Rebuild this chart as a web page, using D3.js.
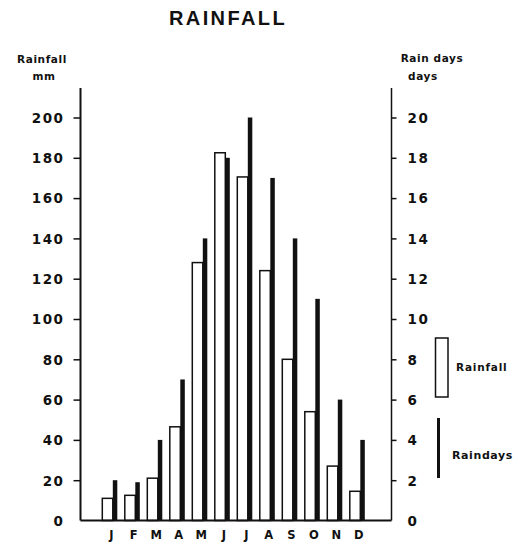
<!DOCTYPE html>
<html><head><meta charset="utf-8">
<script src="https://cdn.jsdelivr.net/npm/d3@7"></script>
<style>
body{margin:0;background:#fff;}
text{font-family:"Liberation Sans",Arial,sans-serif;fill:#111;}
</style></head><body>
<svg id="c" width="523" height="550"></svg>
<script>
const months = ["J","F","M","A","M","J","J","A","S","O","N","D"];
const rainfall = [11, 12.5, 21, 46.5, 128, 182.5, 170.5, 124, 80, 54, 27, 14.5];
const raindays = [2, 1.9, 4, 7, 14, 18, 20, 17, 14, 11, 6, 4];
const mmTicks = [0,20,40,60,80,100,120,140,160,180,200];
const dayTicks = [0,2,4,6,8,10,12,14,16,18,20];

const svg = d3.select("#c");
const ids = months.map((m,i)=>i);
const x = d3.scaleBand().domain(ids).range([98.55, 98.55 + 12*22.5]).paddingInner(1/3).paddingOuter(1/6);
const yL = d3.scaleLinear().domain([0,200]).range([520.5,117.5]);
const yR = d3.scaleLinear().domain([0,20]).range([520.5,117.5]);
const xLeft = 80.5, xRight = 391.5, yTop = 88;

// title
svg.append("text").attr("x",228).attr("y",25).attr("text-anchor","middle")
  .style("font-size","20px").style("font-weight","bold").style("letter-spacing","2.4px").text("RAINFALL");

// axis titles
const ft = (t,xx,yy,anchor)=>svg.append("text").attr("x",xx).attr("y",yy).attr("text-anchor",anchor||"middle")
  .style("font-family","'DejaVu Sans',sans-serif")
  .style("font-size","10.5px").style("font-weight","bold").style("letter-spacing","0.6px").text(t);
ft("Rainfall",42,63);
ft("mm",44,80);
ft("Rain days",432,62);
ft("days",423,80);

// bars
const bw = x.bandwidth();
svg.append("g").selectAll("rect").data(ids).join("rect")
  .attr("x",i=>x(i)).attr("width",bw*0.7)
  .attr("y",i=>yL(rainfall[i])).attr("height",i=>yL(0)-yL(rainfall[i]))
  .attr("fill","#fff").attr("stroke","#111").attr("stroke-width",1.5);
svg.append("g").selectAll("rect").data(ids).join("rect")
  .attr("x",i=>x(i)+bw*0.7).attr("width",bw*0.3)
  .attr("y",i=>yR(raindays[i])).attr("height",i=>yR(0)-yR(raindays[i]))
  .attr("fill","#111");

// left axis
const gl = svg.append("g").attr("transform",`translate(${xLeft},0)`)
  .call(d3.axisLeft(yL).tickValues(mmTicks).tickSize(7).tickPadding(9).tickFormat(d3.format("d")));
gl.select(".domain").remove();
gl.selectAll(".tick line").attr("stroke","#111").attr("stroke-width",1.5);
gl.selectAll(".tick text").style("font-size","13.5px").style("font-weight","bold").style("letter-spacing","1.5px")
  .style("font-family","'DejaVu Sans',sans-serif").attr("dy","0.36em");
gl.selectAll(".tick").filter(d=>d===0).select("line").remove();
svg.append("line").attr("x1",xLeft).attr("x2",xLeft).attr("y1",yTop).attr("y2",yL(0)).attr("stroke","#111").attr("stroke-width",2);

// right axis
const gr = svg.append("g").attr("transform",`translate(${xRight},0)`)
  .call(d3.axisRight(yR).tickValues(dayTicks).tickSize(5).tickPadding(11).tickFormat(d3.format("d")));
gr.select(".domain").remove();
gr.selectAll(".tick line").attr("stroke","#111").attr("stroke-width",1.5);
gr.selectAll(".tick text").style("font-size","13.5px").style("font-weight","bold").style("letter-spacing","1.5px")
  .style("font-family","'DejaVu Sans',sans-serif").attr("dy","0.36em");
gr.selectAll(".tick").filter(d=>d===0).select("line").remove();
svg.append("line").attr("x1",xRight).attr("x2",xRight).attr("y1",yTop).attr("y2",yR(0)).attr("stroke","#111").attr("stroke-width",1.5);

// baseline
svg.append("line").attr("x1",xLeft).attr("x2",xRight).attr("y1",yL(0)).attr("y2",yL(0)).attr("stroke","#111").attr("stroke-width",2);

// month labels
svg.append("g").selectAll("text").data(ids).join("text")
  .attr("x",i=>x(i)+bw*0.6).attr("y",539).attr("text-anchor","middle")
  .style("font-family","'DejaVu Sans',sans-serif")
  .style("font-size","11.5px").style("font-weight","bold").text(i=>months[i]);

// legend
svg.append("rect").attr("x",435.5).attr("y",338).attr("width",12.5).attr("height",59)
  .attr("fill","#fff").attr("stroke","#111").attr("stroke-width",1.5);
svg.append("text").attr("x",456).attr("y",371).style("font-family","'DejaVu Sans',sans-serif")
  .style("font-size","10.5px").style("font-weight","bold").style("letter-spacing","0.8px").text("Rainfall");
svg.append("rect").attr("x",437).attr("y",418).attr("width",3).attr("height",60).attr("fill","#111");
svg.append("text").attr("x",452).attr("y",459).style("font-family","'DejaVu Sans',sans-serif")
  .style("font-size","11px").style("font-weight","bold").style("letter-spacing","0.6px").text("Raindays");
</script></body></html>
